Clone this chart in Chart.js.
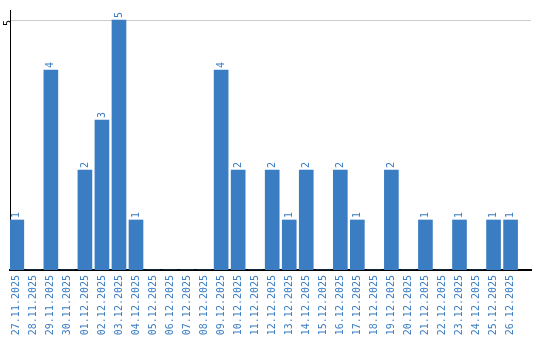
<!DOCTYPE html>
<html>
<head>
<meta charset="utf-8">
<script src="https://cdn.jsdelivr.net/npm/chart.js"></script>
<style>
  html, body { margin: 0; padding: 0; background: #fff; }
  #wrap { width: 540px; height: 340px; }
</style>
</head>
<body>
<div id="wrap"><canvas id="chartContainer"></canvas></div>
<script>
var dates = ['27.11.2025', '28.11.2025', '29.11.2025', '30.11.2025', '01.12.2025', '02.12.2025',
  '03.12.2025', '04.12.2025', '05.12.2025', '06.12.2025', '07.12.2025', '08.12.2025',
  '09.12.2025', '10.12.2025', '11.12.2025', '12.12.2025', '13.12.2025', '14.12.2025',
  '15.12.2025', '16.12.2025', '17.12.2025', '18.12.2025', '19.12.2025', '20.12.2025',
  '21.12.2025', '22.12.2025', '23.12.2025', '24.12.2025', '25.12.2025', '26.12.2025'];
var counts = [1, 0, 4, 0, 2, 3, 5, 1, 0, 0, 0, 0, 4, 2, 0, 2, 1, 2, 0, 2, 1, 0, 2, 0, 1, 0, 1, 0, 1, 1];
var yTicks = [5];

var blue = '#3a7dc2';
var mono = '"DejaVu Sans Mono", monospace';

// value labels over the bars, rotated like the axis text
var barLabels = {
  id: 'barLabels',
  afterDatasetsDraw: function(chart) {
    var ctx = chart.ctx;
    var meta = chart.getDatasetMeta(0);
    ctx.save();
    ctx.font = '10px ' + mono;
    ctx.fillStyle = blue;
    ctx.textAlign = 'left';
    ctx.textBaseline = 'middle';
    meta.data.forEach(function(bar, i) {
      if (!counts[i]) return;
      ctx.save();
      ctx.translate(bar.x, bar.y - 2);
      ctx.rotate(-Math.PI / 2);
      ctx.fillText(String(counts[i]), 0, 0);
      ctx.restore();
    });
    ctx.restore();
  }
};

new Chart(document.getElementById('chartContainer').getContext('2d'), {
  type: 'bar',
  data: {
    datasets: [{
      data: counts.map(function(v, i) { return { x: i, y: v }; }),
      backgroundColor: blue,
      borderWidth: 0,
      barThickness: 14
    }]
  },
  options: {
    responsive: true,
    maintainAspectRatio: false,
    animation: false,
    layout: { padding: { top: 10, right: 9, left: 0, bottom: 0 } },
    plugins: { legend: { display: false }, tooltip: { enabled: false } },
    scales: {
      x: {
        type: 'linear',
        offset: false,
        min: -0.4,
        max: 30.2,
        afterBuildTicks: function(axis) {
          axis.ticks = dates.map(function(d, i) { return { value: i }; });
        },
        afterFit: function(axis) {
          axis.height = 70;
          axis.paddingLeft = 0;
          axis.paddingRight = 0;
        },
        grid: { display: false, drawTicks: false, offset: false },
        border: { color: '#000', width: 2 },
        ticks: {
          autoSkip: false,
          minRotation: 90,
          maxRotation: 90,
          padding: 5,
          color: blue,
          font: { family: mono, size: 10 },
          callback: function(v) { return dates[v]; }
        }
      },
      y: {
        min: 0,
        max: 5.2,
        afterBuildTicks: function(axis) {
          axis.ticks = yTicks.map(function(v) { return { value: v }; });
        },
        afterFit: function(axis) { axis.width = 10; },
        grid: { color: '#cccccc', drawTicks: false, lineWidth: 1 },
        border: { color: '#000', width: 1 },
        ticks: {
          minRotation: 90,
          maxRotation: 90,
          padding: 2,
          color: '#000',
          font: { family: mono, size: 10 }
        }
      }
    }
  },
  plugins: [barLabels]
});
</script>
</body>
</html>
